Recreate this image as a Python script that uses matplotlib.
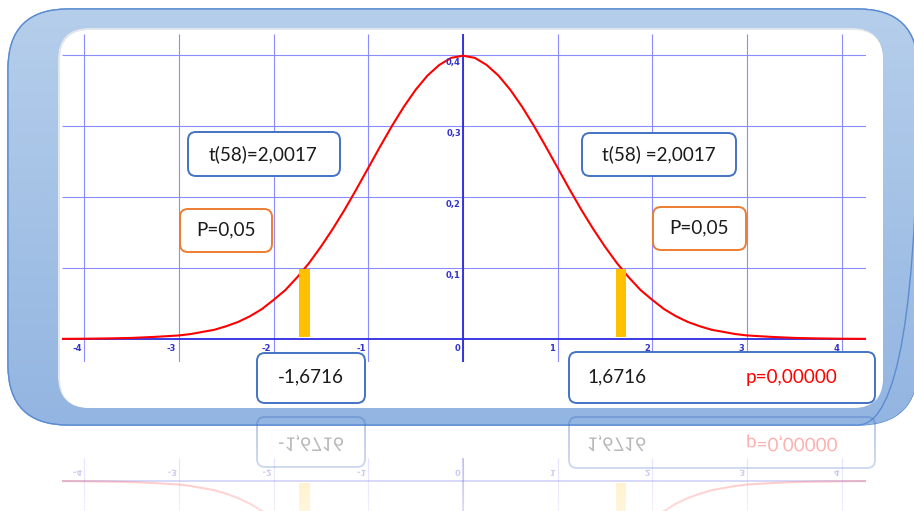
import numpy as np
import matplotlib

matplotlib.use("Agg")
import matplotlib.pyplot as plt
from matplotlib.colors import LinearSegmentedColormap
from matplotlib.font_manager import FontProperties
from matplotlib.patches import FancyBboxPatch, PathPatch
from matplotlib.textpath import TextPath
from matplotlib.transforms import Affine2D

W, H, DPI = 914, 511, 100

# --- values ----------------------------------------------------------------
# right half of the t(58) density curve, mirrored for the left half
half_x = [0.0, 0.125, 0.25, 0.375, 0.5, 0.625, 0.75, 0.875, 1.0, 1.125, 1.25, 1.375,
          1.5, 1.625, 1.75, 1.875, 2.0, 2.125, 2.25, 2.375, 2.5, 2.625, 2.75, 2.875,
          3.0, 3.25, 3.5, 3.75, 4.0, 4.25]
half_y = [0.399, 0.396, 0.386, 0.371, 0.351, 0.327, 0.300, 0.271, 0.241, 0.211, 0.182, 0.155,
          0.130, 0.107, 0.087, 0.069, 0.055, 0.042, 0.032, 0.024, 0.018, 0.013, 0.010, 0.007,
          0.005, 0.003, 0.0015, 0.0008, 0.0004, 0.0002]
curve_x = [-v for v in half_x[:0:-1]] + half_x
curve_y = half_y[:0:-1] + half_y

crit_x = [-1.6716, 1.6716]
crit_h = [0.096, 0.096]

xtick_vals = [-4, -3, -2, -1, 0, 1, 2, 3, 4]
xtick_labels = ["-4", "-3", "-2", "-1", "0", "1", "2", "3", "4"]
ytick_vals = [0.1, 0.2, 0.3, 0.4]
ytick_labels = ["0,1", "0,2", "0,3", "0,4"]

t_labels = ["t(58)=2,0017", "t(58) =2,0017"]
alpha_labels = ["P=0,05", "P=0,05"]
crit_labels = ["-1,6716", "1,6716"]
p_value_label = "p=0,00000"

# --- layout (pixels) -------------------------------------------------------
BLUE_EDGE = "#4472C4"
ORANGE_EDGE = "#ED7D31"
GRID = "#8C8CFF"
AXIS = "#2B2BE0"
TICK = "#3333C8"
BOX_FONT = ["Lato", "DejaVu Sans"]

# x0, y0, x1, y1, edge
boxes = [
    (188, 132, 340, 176, BLUE_EDGE),
    (582, 133, 736, 176, BLUE_EDGE),
    (180, 209, 272, 252, ORANGE_EDGE),
    (653, 207, 746, 250, ORANGE_EDGE),
    (257, 353, 365, 403, BLUE_EDGE),
    (569, 352, 875, 403, BLUE_EDGE),
]
# x, y, text, colour, ha
box_texts = [
    (263, 154, t_labels[0], "#1a1a1a", "center"),
    (659, 154, t_labels[1], "#1a1a1a", "center"),
    (226, 230, alpha_labels[0], "#1a1a1a", "center"),
    (699, 228, alpha_labels[1], "#1a1a1a", "center"),
    (311, 377, crit_labels[0], "#1a1a1a", "center"),
    (587, 377, crit_labels[1], "#1a1a1a", "left"),
    (746, 377, p_value_label, "#FF0000", "left"),
]

MIRROR = 410  # row of the reflection line
XLIM = (-4.234, 4.256)
YLIM = (-0.0324, 0.4296)
AX_L, AX_R, AX_T, AX_B = 62, 866, 34, 362


def put_text(ax, x, y, s, size, color, ha="center", va="center", weight="normal",
             family=BOX_FONT, mirrored=False, alpha=1.0):
    if not mirrored:
        ax.text(x, y, s, fontsize=size, color=color, ha=ha, va=va,
                fontweight=weight, family=family, alpha=alpha)
        return
    fp = FontProperties(family=family, weight=weight)
    tp = TextPath((0, 0), s, size=size * DPI / 72, prop=fp)
    bb = tp.get_extents()
    dx = {"left": 0, "center": bb.x0 + bb.width / 2, "right": bb.x1}[ha]
    dy = {"top": bb.y1, "center": (bb.y0 + bb.y1) / 2, "bottom": bb.y0}[va]
    tr = Affine2D().translate(-dx, -dy).scale(1, -1).translate(x, y)
    ax.add_patch(PathPatch(tr.transform_path(tp), fc=color, ec="none", alpha=alpha))


def draw_data(ax, alpha=1.0):
    ax.vlines(xtick_vals, YLIM[0], YLIM[1], color=GRID, lw=0.8, alpha=alpha)
    ax.hlines(ytick_vals, XLIM[0], XLIM[1], color=GRID, lw=0.8, alpha=alpha)
    ax.axhline(0, color=AXIS, lw=1.3, alpha=alpha)
    ax.vlines([0], YLIM[0], YLIM[1], color=AXIS, lw=1.3, alpha=alpha)
    ax.plot(curve_x, curve_y, color="#FF0000", lw=1.5, alpha=alpha, zorder=3,
            solid_joinstyle="round")
    ax.bar(crit_x, crit_h, width=0.11, bottom=0.003, color="#FFC000",
           alpha=alpha, zorder=4)


def draw_labels(ax, main_ax, mirrored=False, alpha=1.0):
    def to_px(x, y):
        dx, dy = main_ax.transData.transform((x, y))
        return dx, H - dy

    for v, lab in zip(xtick_vals, xtick_labels):
        px, py = to_px(v, 0)
        put_text(ax, px - 2.5, py + 5, lab, 6, TICK, ha="right", va="top",
                 weight="bold", family=["DejaVu Sans"], mirrored=mirrored, alpha=alpha)
    for v, lab in zip(ytick_vals, ytick_labels):
        px, py = to_px(0, v)
        put_text(ax, px - 2, py + 3, lab, 6, TICK, ha="right", va="top",
                 weight="bold", family=["DejaVu Sans"], mirrored=mirrored, alpha=alpha)
    for x0, y0, x1, y1, ec in boxes:
        ax.add_patch(FancyBboxPatch((x0, y0), x1 - x0, y1 - y0,
                                    boxstyle="round,pad=0,rounding_size=8",
                                    fc="white" if not mirrored else "none",
                                    ec=ec, lw=1.4, alpha=alpha))
    for x, y, s, c, ha in box_texts:
        put_text(ax, x, y, s, 13.6, c, ha=ha, mirrored=mirrored, alpha=alpha)


def px_axes(fig, top, bottom, ylim, zorder):
    a = fig.add_axes([0, (H - bottom) / H, 1, (bottom - top) / H])
    a.set_xlim(0, W)
    a.set_ylim(*ylim)
    a.axis("off")
    a.set_zorder(zorder)
    return a


fig = plt.figure(figsize=(W / DPI, H / DPI), dpi=DPI)
fig.patch.set_facecolor("white")

# frame
bg = px_axes(fig, 0, H, (H, 0), 0)
outer = FancyBboxPatch((8, 9), 910, 416, boxstyle="round,pad=0,rounding_size=60",
                       fc="#A9C5E8", ec="#5B8CD1", lw=1.0)
bg.add_patch(outer)
cmap = LinearSegmentedColormap.from_list("frame", ["#B5CEEB", "#93B5E1"])
grad = bg.imshow(np.linspace(0, 1, 256)[:, None], cmap=cmap, aspect="auto",
                 extent=(0, W, 426, 8), zorder=1)
grad.set_clip_path(outer)
bg.add_patch(FancyBboxPatch((8, 9), 910, 416, boxstyle="round,pad=0,rounding_size=60",
                            fc="none", ec="#5B8CD1", lw=1.0, zorder=2))
bg.add_patch(FancyBboxPatch((58, 28), 825, 380, boxstyle="round,pad=0,rounding_size=32",
                            fc="#E2E7EE", ec="none", zorder=3))
bg.add_patch(FancyBboxPatch((60, 30), 823, 378, boxstyle="round,pad=0,rounding_size=30",
                            fc="white", ec="none", zorder=4))

# chart
ax = fig.add_axes([AX_L / W, (H - AX_B) / H, (AX_R - AX_L) / W, (AX_B - AX_T) / H])
ax.set_xlim(*XLIM)
ax.set_ylim(*YLIM)
ax.axis("off")
ax.set_zorder(1)
draw_data(ax)

ov = px_axes(fig, 0, H, (H, 0), 2)
draw_labels(ov, ax)

# reflection below the frame
inv = ax.transData.inverted()
y_top = inv.transform((0, H - MIRROR))[1]
y_bot = inv.transform((0, H - (2 * MIRROR - H)))[1]
rax = fig.add_axes([AX_L / W, 0, (AX_R - AX_L) / W, (H - MIRROR) / H])
rax.set_xlim(*XLIM)
rax.set_ylim(y_bot, y_top)
rax.axis("off")
rax.set_zorder(3)
draw_data(rax, alpha=0.3)

rov = px_axes(fig, MIRROR, H, (2 * MIRROR - H, MIRROR), 4)
draw_labels(rov, ax, mirrored=True, alpha=0.35)

fade = px_axes(fig, 425, H, (H, 425), 5)
shade = np.ones((256, 1, 4))
shade[:, 0, 3] = np.linspace(0.0, 0.55, 256)
fade.imshow(shade, aspect="auto", extent=(0, W, H, 425))

fig.savefig("out.png", dpi=DPI)
